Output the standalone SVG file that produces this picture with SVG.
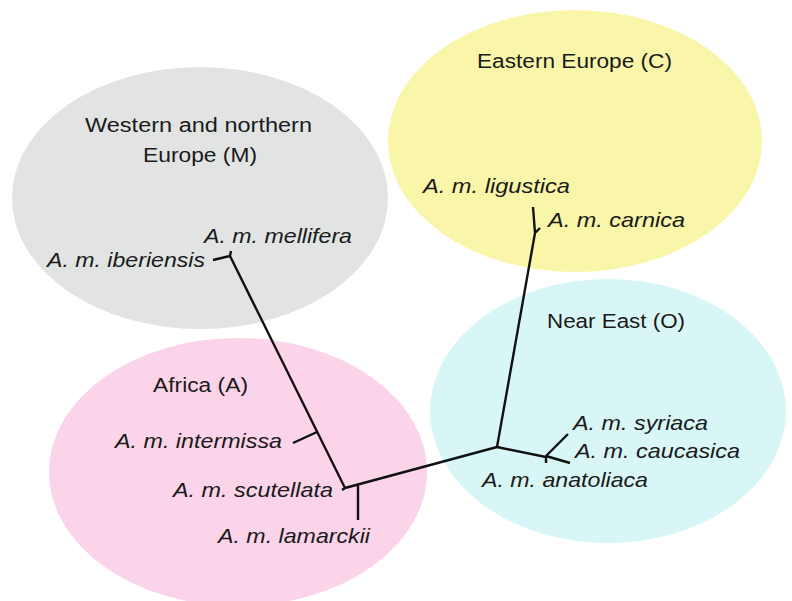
<svg xmlns="http://www.w3.org/2000/svg" width="792" height="601" viewBox="0 0 792 601">
<style>
.region{font-family:"Liberation Sans",Arial,sans-serif;font-size:20px;fill:#1a1a1a}
.taxon{font-family:"Liberation Sans",Arial,sans-serif;font-size:21px;font-style:italic;fill:#1a1a1a}
.branch{fill:none;stroke:#111;stroke-width:2.4;stroke-linecap:butt;stroke-linejoin:miter}
</style>
<rect width="792" height="601" fill="#ffffff"/>
<g id="region-M">
<ellipse cx="200" cy="198" rx="188" ry="131" fill="#e1e4e3"/>
<text class="region" x="85" y="132" textLength="227" lengthAdjust="spacingAndGlyphs">Western and northern</text>
<text class="region" x="143" y="162" textLength="114" lengthAdjust="spacingAndGlyphs">Europe (M)</text>
</g>
<g id="region-C">
<ellipse cx="575" cy="141" rx="187" ry="131" fill="#f9f6a9"/>
<text class="region" x="477" y="68" textLength="195" lengthAdjust="spacingAndGlyphs">Eastern Europe (C)</text>
</g>
<g id="region-A">
<ellipse cx="238" cy="472" rx="189" ry="134" fill="#fbd4e9"/>
<text class="region" x="153" y="392" textLength="95" lengthAdjust="spacingAndGlyphs">Africa (A)</text>
</g>
<g id="region-O">
<ellipse cx="608" cy="411" rx="178" ry="132" fill="#d9f6f6"/>
<text class="region" x="547" y="328" textLength="138" lengthAdjust="spacingAndGlyphs">Near East (O)</text>
</g>
<g id="connectors">
<path class="branch" d="M213,260 L230,256 L231,251 M230,256 L345,488 L342,490 M293,443 L317,432 M345,488 L497,447 M358,485 L358,520 M497,447 L535,233 L540,228 M535,233 L533,207 M497,447 L546,457 L546,463 M546,456 L568,434 M546,456 L570,463"/>
</g>
<g id="taxon-ligustica"><text class="taxon" x="423" y="193" textLength="147" lengthAdjust="spacingAndGlyphs">A. m. ligustica</text></g>
<g id="taxon-carnica"><text class="taxon" x="548" y="227" textLength="137" lengthAdjust="spacingAndGlyphs">A. m. carnica</text></g>
<g id="taxon-mellifera"><text class="taxon" x="204" y="243" textLength="148" lengthAdjust="spacingAndGlyphs">A. m. mellifera</text></g>
<g id="taxon-iberiensis"><text class="taxon" x="47" y="267" textLength="158" lengthAdjust="spacingAndGlyphs">A. m. iberiensis</text></g>
<g id="taxon-intermissa"><text class="taxon" x="115" y="448" textLength="167" lengthAdjust="spacingAndGlyphs">A. m. intermissa</text></g>
<g id="taxon-scutellata"><text class="taxon" x="173" y="497" textLength="160" lengthAdjust="spacingAndGlyphs">A. m. scutellata</text></g>
<g id="taxon-lamarckii"><text class="taxon" x="218" y="543" textLength="152" lengthAdjust="spacingAndGlyphs">A. m. lamarckii</text></g>
<g id="taxon-syriaca"><text class="taxon" x="573" y="430" textLength="135" lengthAdjust="spacingAndGlyphs">A. m. syriaca</text></g>
<g id="taxon-caucasica"><text class="taxon" x="575" y="458" textLength="165" lengthAdjust="spacingAndGlyphs">A. m. caucasica</text></g>
<g id="taxon-anatoliaca"><text class="taxon" x="482" y="487" textLength="166" lengthAdjust="spacingAndGlyphs">A. m. anatoliaca</text></g>
</svg>
